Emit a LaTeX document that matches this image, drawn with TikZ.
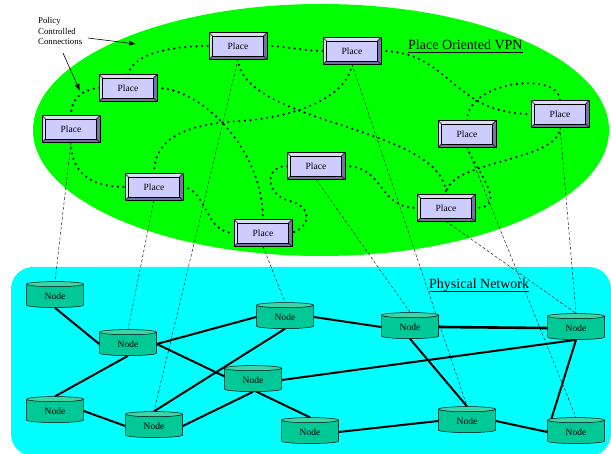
\documentclass[tikz,border=0pt]{standalone}
\usepackage{fontspec}
\setmainfont{Liberation Serif}
\usetikzlibrary{shapes.geometric,arrows.meta}
\pgfdeclarelayer{bg}
\pgfdeclarelayer{links}
\pgfsetlayers{bg,links,main}
\definecolor{vpngreen}{HTML}{00FF00}
\definecolor{netcyan}{HTML}{00FFFF}
\definecolor{placefill}{HTML}{CCCCFF}
\definecolor{bevellight}{HTML}{DCDCF2}
\definecolor{beveldark}{HTML}{7474A4}
\definecolor{nodebody}{HTML}{00C896}
\definecolor{nodetop}{HTML}{3AD8A8}
\tikzset{
  place/.style={rectangle, draw=black, line width=0.6pt, fill=placefill,
    minimum width=57pt, minimum height=26pt, inner sep=0pt,
    font=\fontsize{9.5}{10}\selectfont},
  pnode/.style={cylinder, shape border rotate=90, aspect=0.25, draw=black,
    line width=0.5pt, cylinder uses custom fill, cylinder body fill=nodebody,
    cylinder end fill=nodetop, minimum width=57pt, minimum height=26pt,
    inner sep=0pt, font=\fontsize{9.5}{10}\selectfont},
  bevel/.style={line width=0.4pt, draw=black},
  conn/.style={line width=2.4pt, dash pattern=on 0pt off 5.6pt, line cap=round},
  link/.style={line width=2pt},
  mapping/.style={line width=0.4pt, dash pattern=on 3pt off 2pt},
  title/.style={anchor=base west, inner sep=0pt, font=\fontsize{14}{16}\selectfont},
}
\begin{document}
\begin{tikzpicture}[x=1pt, y=-1pt]
\useasboundingbox (0,0) rectangle (611,454);

% backgrounds: VPN ellipse and physical network area
\begin{pgfonlayer}{bg}
  \fill[vpngreen] (321,130) ellipse [x radius=288, y radius=126];
  \fill[netcyan, rounded corners=22] (11,267) rectangle (611,456);
\end{pgfonlayer}

% places
\node[place] (P1) at (128,88) {Place};
\node[place] (P2) at (71,129) {Place};
\node[place] (P3) at (238,46) {Place};
\node[place] (P4) at (352,51) {Place};
\node[place] (P5) at (560,114) {Place};
\node[place] (P6) at (467,134) {Place};
\node[place] (P7) at (446,208) {Place};
\node[place] (P8) at (154,187) {Place};
\node[place] (P9) at (316,166) {Place};
\node[place] (P10) at (263,233) {Place};

% bevelled frame of the place boxes
\foreach \p in {P1,P2,P3,P4,P5,P6,P7,P8,P9,P10}{
  \coordinate (iNW) at ([shift={(3.2,3.2)}]\p.north west);
  \coordinate (iNE) at ([shift={(-3.2,3.2)}]\p.north east);
  \coordinate (iSW) at ([shift={(3.2,-3.2)}]\p.south west);
  \coordinate (iSE) at ([shift={(-3.2,-3.2)}]\p.south east);
  \fill[bevellight] (\p.north west) -- (\p.north east) -- (iNE) -- (iNW) -- cycle;
  \fill[bevellight] (\p.north west) -- (iNW) -- (iSW) -- (\p.south west) -- cycle;
  \fill[beveldark] (\p.south west) -- (\p.south east) -- (iSE) -- (iSW) -- cycle;
  \fill[beveldark] (\p.north east) -- (\p.south east) -- (iSE) -- (iNE) -- cycle;
  \draw[bevel] (iNW) rectangle (iSE);
  \draw[bevel] (\p.north west) -- (iNW) (\p.north east) -- (iNE)
               (\p.south west) -- (iSW) (\p.south east) -- (iSE);
  \draw[line width=0.6pt] (\p.north west) rectangle (\p.south east);
}

% physical nodes
\node[pnode] (N1) at (55,296) {Node};
\node[pnode] (N2) at (128,344) {Node};
\node[pnode] (N3) at (55,411) {Node};
\node[pnode] (N4) at (154,426) {Node};
\node[pnode] (N5) at (253,380) {Node};
\node[pnode] (N6) at (285,317) {Node};
\node[pnode] (N7) at (310,432) {Node};
\node[pnode] (N8) at (410,327) {Node};
\node[pnode] (N9) at (576,328) {Node};
\node[pnode] (N10) at (467,421) {Node};
\node[pnode] (N11) at (576,432) {Node};

\begin{pgfonlayer}{links}
  % policy controlled connections between places
  \draw[conn] (P1.north) .. controls +(5,-22) and +(-35,0) .. (P3.west);
  \draw[conn] (P1.west) .. controls +(-20,2) and +(0,-15) .. (P2.north);
  \draw[conn] (P1.east) .. controls +(45,0) and +(0,-70) .. (P10.north);
  \draw[conn] (P3.east) .. controls +(20,0) and +(-20,0) .. (P4.west);
  \draw[conn] (P3.south) .. controls +(5,66) and +(-1,-69) .. (P7.north);
  \draw[conn] (P4.east) .. controls +(70,0) and +(-80,0) .. (P5.west);
  \draw[conn] (P4.south) .. controls +(-5,35) and (290,118) .. (240,121)
                         .. controls (190,124) and +(0,-38) .. (P8.north);
  \draw[conn] (P5.south) .. controls +(0,35) and +(0,-35) .. (P7.north);
  \draw[conn] (P6.north) .. controls +(0,-40) and +(0,-30) .. (P5.north);
  \draw[conn] (P6.south) .. controls +(10,25) and +(35,0) .. (P7.east);
  \draw[conn] (P9.east) .. controls +(40,0) and +(-40,0) .. (P7.west);
  \draw[conn] (P9.west) .. controls +(-24,0) and (266,196) .. (290,201)
                        .. controls (312,207) and +(20,-7) .. (P10.east);
  \draw[conn] (P8.east) .. controls +(25,3) and +(-30,0) .. (P10.west);
  \draw[conn] (P2.south) .. controls +(0,30) and +(-35,0) .. (P8.west);

  % mapping of places onto physical nodes
  \draw[mapping] (P2.south) -- (N1.north);
  \draw[mapping] (P8.south) -- (N2.north);
  \draw[mapping] (P3.south) -- (N4.north);
  \draw[mapping] (P10.south) -- (N6.north);
  \draw[mapping] (P9.south) -- (N8.north);
  \draw[mapping] (P4.south) -- (N10.north);
  \draw[mapping] (P7.south) -- (N9.north);
  \draw[mapping] (P5.south) -- (N9.north);
  \draw[mapping] (P6.south) -- (N11.north);

  % physical links
  \draw[link] (N1.south) -- (N2.west);
  \draw[link] (N2.south) -- (N3.north);
  \draw[link] (N2.east) -- (N6.west);
  \draw[link] (N2.east) -- (N7.north);
  \draw[link] (N3.east) -- (N4.west);
  \draw[link] (N4.north) -- (N6.south);
  \draw[link] (N4.east) -- (N5.south);
  \draw[link] (N5.east) -- (N9.south);
  \draw[link] (N6.east) -- (N8.west);
  \draw[link, line width=2.6pt] (N8.east) -- (N9.west);
  \draw[link] (N8.south) -- (N10.north);
  \draw[link] (N7.east) -- (N10.west);
  \draw[link] (N10.east) -- (N11.west);
  \draw[link] (N9.south) -- (N11.west);
\end{pgfonlayer}

% titles
\node[title] (vpn) at (408,50) {Place Oriented VPN};
\draw[line width=0.5pt] ([yshift=-2.5pt]vpn.base west) -- ([yshift=-2.5pt]vpn.base east);
\node[title] (phys) at (429,289) {Physical Network};
\draw[line width=0.5pt] ([yshift=-2.5pt]phys.base west) -- ([yshift=-2.5pt]phys.base east);

% annotation
\node[anchor=north west, inner sep=0pt, align=left,
      font=\fontsize{8.8}{10.5}\selectfont] (policy) at (38,17.5)
      {Policy\\Controlled\\Connections};
\coordinate (a1s) at (88,38);
\coordinate (a1e) at (136,44);
\coordinate (a2s) at (63,53);
\coordinate (a2e) at (80,91);
\draw[line width=0.6pt, -{Latex[length=7pt,width=5pt]}] (a1s) -- (a1e);
\draw[line width=0.6pt, -{Latex[length=7pt,width=5pt]}] (a2s) -- (a2e);
\end{tikzpicture}
\end{document}
